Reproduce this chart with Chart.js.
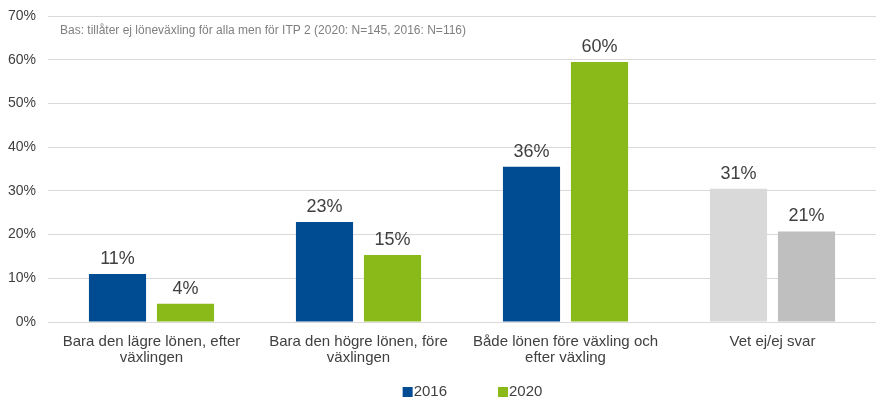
<!DOCTYPE html>
<html><head><meta charset="utf-8">
<script src="https://cdn.jsdelivr.net/npm/chart.js@4"></script>
<style>html,body{margin:0;padding:0;background:#fff}#w{width:876px;height:398px}</style>
</head><body><div id="w"><canvas id="c"></canvas></div>
<script>
const categories = [["Bara den lägre lönen, efter","växlingen"],["Bara den högre lönen, före","växlingen"],["Både lönen före växling och","efter växling"],["Vet ej/ej svar"]];
const values2016 = [11.0, 22.9, 35.5, 30.5];
const values2020 = [4.2, 15.3, 59.5, 20.7];
const labels2016 = ["11%","23%","36%","31%"];
const labels2020 = ["4%","15%","60%","21%"];
const seriesNames = ["2016","2020"];
const yTicks = [0,10,20,30,40,50,60,70];
const note = "Bas: tillåter ej löneväxling för alla men för ITP 2 (2020: N=145, 2016: N=116)";
const FONT = 'Arial, "Liberation Sans", sans-serif';
const C16 = '#004C93', C20 = '#8AB91A';

const labelPlugin = {
  id:'lbl',
  afterDatasetsDraw(chart){
    const ctx = chart.ctx;
    ctx.save();
    ctx.font = '18px ' + FONT;
    ctx.fillStyle = '#404040';
    ctx.textAlign = 'center';
    ctx.textBaseline = 'bottom';
    const lab = [labels2016, labels2020];
    chart.data.datasets.forEach((ds,i)=>{
      chart.getDatasetMeta(i).data.forEach((el,j)=>{
        ctx.fillText(lab[i][j], el.x, el.y - 6);
      });
    });
    const ca = chart.chartArea;
    ctx.font = '12px ' + FONT;
    ctx.fillStyle = '#7f7f7f';
    ctx.textAlign = 'left';
    ctx.textBaseline = 'middle';
    ctx.fillText(note, ca.left + 12, ca.top + 15);
    // legend
    ctx.font = '15px ' + FONT;
    const cols = [C16, C20];
    const itemW = seriesNames.map(s => 12 + ctx.measureText(s).width);
    const gap = 50;
    const total = itemW[0] + itemW[1] + gap;
    let x = (ca.left + ca.right) / 2 + 11 - total / 2;
    const y = 391;
    seriesNames.forEach((s,i)=>{
      ctx.fillStyle = cols[i];
      ctx.fillRect(x, y - 4, 10, 10);
      ctx.fillStyle = '#404040';
      ctx.fillText(s, x + 11, y + 1);
      x += itemW[i] + gap;
    });
    ctx.restore();
  }
};

new Chart(document.getElementById('c'), {
  type:'bar',
  data:{
    labels: categories,
    datasets:[
      {label:seriesNames[0], data: values2016, backgroundColor:[C16,C16,C16,'#D9D9D9']},
      {label:seriesNames[1], data: values2020, backgroundColor:[C20,C20,C20,'#BFBFBF']}
    ]
  },
  options:{
    responsive:true, maintainAspectRatio:false, animation:false,
    layout:{padding:{top:16,right:0,left:4,bottom:0}},
    categoryPercentage:0.657, barPercentage:0.84,
    plugins:{ legend:{display:false}, tooltip:{enabled:false} },
    scales:{
      x:{grid:{display:false, drawTicks:false}, border:{display:false},
         afterFit(axis){ axis.height = 76; },
         ticks:{color:'#404040', font:{size:15, family:FONT, lineHeight:1.05}, maxRotation:0, padding:12}},
      y:{min:0, max:70, border:{display:false},
         grid:{color:'#D9D9D9', lineWidth:1, drawTicks:false},
         afterFit(axis){ axis.width = 44; axis.paddingTop = 0; axis.paddingBottom = 0; },
         afterBuildTicks(axis){ axis.ticks = yTicks.map(v=>({value:v})); },
         ticks:{color:'#404040', padding:12, font:{size:14, family:FONT}, callback:v=>v+'%'}}
    }
  },
  plugins:[labelPlugin]
});
</script></body></html>
